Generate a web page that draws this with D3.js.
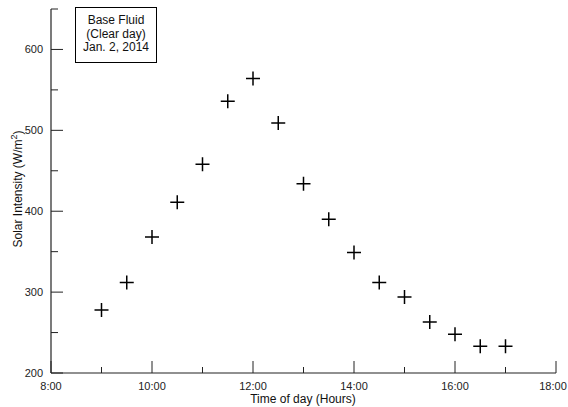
<!DOCTYPE html>
<html><head><meta charset="utf-8">
<script src="https://cdn.jsdelivr.net/npm/d3@7"></script>
<style>body{margin:0;background:#fff;} text{font-family:"Liberation Sans",Arial,sans-serif;}</style>
</head><body><svg id="c" width="568" height="407"></svg>
<script>
const hours = [9, 9.5, 10, 10.5, 11, 11.5, 12, 12.5, 13, 13.5, 14, 14.5, 15, 15.5, 16, 16.5, 17];
const intensity = [278, 312, 368, 411, 458, 536, 564, 509, 434, 390, 349, 312, 294, 263, 248, 233, 233];
const xMajorTicks = [8, 10, 12, 14, 16, 18];
const xMinorTicks = [9, 11, 13, 15, 17];
const yMajorTicks = [200, 300, 400, 500, 600];
const yMinorTicks = [250, 350, 450, 550, 650];
const legendLines = ["Base Fluid", "(Clear day)", "Jan. 2, 2014"];

const svg = d3.select("#c");
const x = d3.scaleLinear().domain([8, 18]).range([51, 556]);
const y = d3.scaleLinear().domain([200, 650]).range([373, 9]);
const col = "#222";

// axes lines
svg.append("line").attr("x1", x(8)).attr("x2", x(18)).attr("y1", y(200)).attr("y2", y(200)).attr("stroke", col).attr("stroke-width", 1.2);
svg.append("line").attr("x1", x(8)).attr("x2", x(8)).attr("y1", y(200)).attr("y2", y(650)).attr("stroke", col).attr("stroke-width", 1.2);

// x ticks
svg.selectAll(".xM").data(xMajorTicks).enter().append("line")
  .attr("x1", d => x(d)).attr("x2", d => x(d)).attr("y1", y(200)).attr("y2", y(200) - 12).attr("stroke", col);
svg.selectAll(".xm").data(xMinorTicks).enter().append("line")
  .attr("x1", d => x(d)).attr("x2", d => x(d)).attr("y1", y(200)).attr("y2", y(200) - 6).attr("stroke", col);
svg.selectAll(".xl").data(xMajorTicks).enter().append("text")
  .attr("x", d => Math.min(x(d), 553)).attr("y", 390).attr("text-anchor", "middle").attr("font-size", 11).attr("fill", "#222")
  .text(d => d + ":00");

// y ticks
svg.selectAll(".yM").data(yMajorTicks).enter().append("line")
  .attr("x1", x(8)).attr("x2", x(8) + 12).attr("y1", d => y(d)).attr("y2", d => y(d)).attr("stroke", col);
svg.selectAll(".ym").data(yMinorTicks).enter().append("line")
  .attr("x1", x(8)).attr("x2", x(8) + 7).attr("y1", d => y(d)).attr("y2", d => y(d)).attr("stroke", col);
svg.selectAll(".yl").data(yMajorTicks).enter().append("text")
  .attr("x", 43).attr("y", d => y(d) + 4).attr("text-anchor", "end").attr("font-size", 11).attr("fill", "#222")
  .text(d => d);

// axis titles
svg.append("text").attr("x", 303).attr("y", 403).attr("text-anchor", "middle").attr("font-size", 12).attr("fill", "#111")
  .text("Time of day (Hours)");
const yt = svg.append("text").attr("transform", "translate(22,189) rotate(-90)").attr("text-anchor", "middle")
  .attr("font-size", 12).attr("fill", "#111");
yt.append("tspan").text("Solar Intensity (W/m");
yt.append("tspan").attr("dy", -5).attr("font-size", 9).text("2");
yt.append("tspan").attr("dy", 5).text(")");

// markers
const g = svg.append("g");
hours.forEach((h, i) => {
  const cx = x(h), cy = y(intensity[i]);
  g.append("path").attr("d", `M${cx - 7},${cy}H${cx + 7}M${cx},${cy - 7}V${cy + 7}`)
    .attr("stroke", "#000").attr("stroke-width", 1.5).attr("fill", "none");
});

// legend box
svg.append("rect").attr("x", 75.5).attr("y", 7.5).attr("width", 81).attr("height", 55)
  .attr("fill", "#fff").attr("stroke", "#000").attr("stroke-width", 1);
svg.selectAll(".lg").data(legendLines).enter().append("text")
  .attr("x", 116).attr("y", (d, i) => 24 + i * 13.5).attr("text-anchor", "middle").attr("font-size", 12).attr("fill", "#111")
  .text(d => d);
</script></body></html>
